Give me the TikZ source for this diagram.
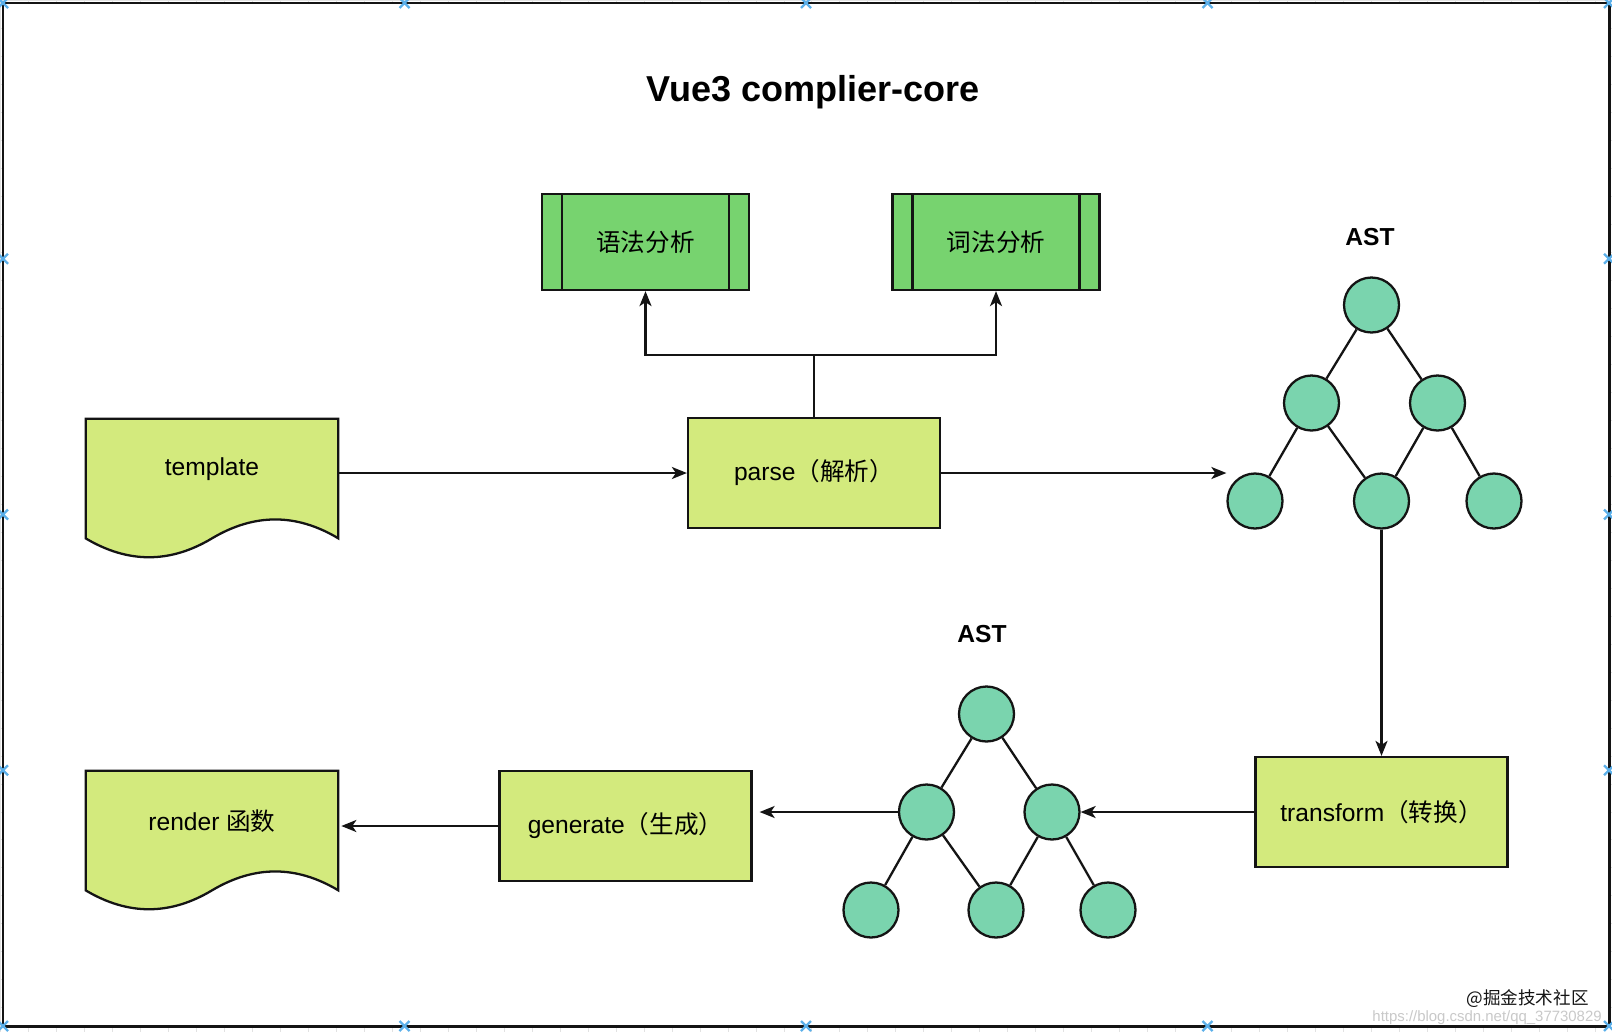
\documentclass[tikz,border=0pt]{standalone}
\usepackage{fontspec}
\setmainfont{Liberation Sans}
\newfontfamily\zhfont{Noto Sans CJK SC}
\usepackage{tikz}
\usetikzlibrary{arrows.meta,positioning,calc,backgrounds}
\definecolor{Ink}{HTML}{141414}
\definecolor{Lime}{HTML}{D3EA7D}
\definecolor{Leaf}{HTML}{77D36F}
\definecolor{Mint}{HTML}{7AD4AE}
\definecolor{Handle}{HTML}{5CB0EA}
\definecolor{GridLine}{HTML}{E2E2E2}
\definecolor{Stamp}{HTML}{C9C9C9}
\newcommand\stagefont{\fontsize{14}{17}\selectfont}
\tikzset{
  stage/.style={draw=Ink,fill=Lime,line width=1.3pt,minimum width=5.04cm,minimum height=2.2cm,inner sep=0pt,font=\stagefont},
  docbox/.style={minimum width=5.04cm,minimum height=2cm,inner sep=0pt,font=\stagefont},
  docline/.style={draw=Ink,fill=Lime,line width=1.3pt},
  subproc/.style={draw=Ink,fill=Leaf,line width=1.3pt,minimum width=4.14cm,minimum height=1.92cm,inner sep=0pt,font=\stagefont\zhfont,
    path picture={\draw[Ink,line width=1.3pt]
      ([xshift=.4cm]path picture bounding box.north west) -- ([xshift=.4cm]path picture bounding box.south west)
      ([xshift=-.4cm]path picture bounding box.north east) -- ([xshift=-.4cm]path picture bounding box.south east);}},
  astnode/.style={circle,draw=Ink,fill=Mint,line width=1.3pt,minimum size=1.1cm,inner sep=0pt},
  astedge/.style={draw=Ink,line width=1.3pt},
  astlabel/.style={font=\bfseries\stagefont},
  headline/.style={font=\bfseries\fontsize{20.5}{24}\selectfont},
  flow/.style={-{Stealth[length=3mm,width=2.4mm,inset=.8mm]},draw=Ink,line width=1.3pt},
  plainline/.style={draw=Ink,line width=1.3pt},
  frameline/.style={draw=Ink,fill=white,line width=1.7pt},
  gridline/.style={draw=GridLine,line width=.4pt},
  handle/.style={draw=Handle,line width=1.3pt},
  stamp/.style={font=\zhfont\fontsize{10}{12}\selectfont,text=Ink,inner sep=0pt},
  csdn/.style={font=\fontsize{8.5}{10}\selectfont,text=Stamp,inner sep=0pt}
}
% wavy bottom of a document box, drawn round a named node
\newcommand\wavedoc[1]{%
  \draw[docline] (#1.north west) -- (#1.north east) -- ($(#1.south east)+(0,19)$)
    .. controls ($(#1.south east)+(-42,-6.2)$) and ($(#1.south east)+(-84,-6.2)$) .. ($(#1.south)+(0,19)$)
    .. controls ($(#1.south)+(-42,44.2)$) and ($(#1.south)+(-84,44.2)$) .. ($(#1.south west)+(0,19)$) -- cycle;}

\begin{document}
\begin{tikzpicture}[x=.02cm,y=-.02cm]
  \useasboundingbox (0,0) rectangle (1612,1032);
  \begin{scope}[on background layer]
    \draw[gridline] (0,0) grid[step=.56cm] (1612,1032);
    \draw[frameline] (3,3) rectangle (1609,1026);
  \end{scope}
  \foreach \hx in {3,404.5,806,1207.5,1609}{
    \draw[handle] (\hx,3) +(-5,-5) -- +(5,5) +(-5,5) -- +(5,-5);
    \draw[handle] (\hx,1026) +(-5,-5) -- +(5,5) +(-5,5) -- +(5,-5);
  }
  \foreach \hy in {258.75,514.5,770.25}{
    \draw[handle] (3,\hy) +(-5,-5) -- +(5,5) +(-5,5) -- +(5,-5);
    \draw[handle] (1609,\hy) +(-5,-5) -- +(5,5) +(-5,5) -- +(5,-5);
  }

  \node[headline] (title) at (813,92) {Vue3 complier-core};

  % template -> parse -> AST
  \node[docbox] (tpl) at (212,469) {template};
  \begin{scope}[on background layer]\wavedoc{tpl}\end{scope}
  \node[stage] (parse) at (814,473) {parse{\zhfont（解析）}};
  \node[subproc] (gram) at (645.5,242) {语法分析};
  \node[subproc] (lex) at (996,242) {词法分析};
  \coordinate (fork) at (814,355);

  \node[astlabel] (ast1) at (1370,237) {AST};
  \node[astnode] (a1r) at (1371.5,305) {};
  \node[astnode] (a1ml) at (1311.5,403) {};
  \node[astnode] (a1mr) at (1437.5,403) {};
  \node[astnode] (a1l1) at (1255,501) {};
  \node[astnode] (a1l2) at (1381.5,501) {};
  \node[astnode] (a1l3) at (1494,501) {};
  \draw[astedge] (a1r) -- (a1ml);
  \draw[astedge] (a1r) -- (a1mr);
  \draw[astedge] (a1ml) -- (a1l1);
  \draw[astedge] (a1ml) -- (a1l2);
  \draw[astedge] (a1mr) -- (a1l2);
  \draw[astedge] (a1mr) -- (a1l3);

  \draw[flow] (tpl.east |- parse.west) -- (parse.west);
  \draw[plainline] (parse.north) -- (fork);
  \draw[flow] (fork) -| (gram.south);
  \draw[flow] (fork) -| (lex.south);
  \draw[flow] (parse.east) -- (parse.east -| a1l1.west);

  % transform -> AST -> generate -> render
  \node[stage] (trans) at (1381.5,812) {transform{\zhfont（转换）}};
  \draw[flow] (a1l2) -- (trans.north);

  \node[astlabel] (ast2) at (982,634) {AST};
  \node[astnode] (a2r) at (986.5,714) {};
  \node[astnode] (a2ml) at (926.5,812) {};
  \node[astnode] (a2mr) at (1052,812) {};
  \node[astnode] (a2l1) at (871,910) {};
  \node[astnode] (a2l2) at (996,910) {};
  \node[astnode] (a2l3) at (1108,910) {};
  \draw[astedge] (a2r) -- (a2ml);
  \draw[astedge] (a2r) -- (a2mr);
  \draw[astedge] (a2ml) -- (a2l1);
  \draw[astedge] (a2ml) -- (a2l2);
  \draw[astedge] (a2mr) -- (a2l2);
  \draw[astedge] (a2mr) -- (a2l3);
  \draw[flow] (trans.west) -- (a2mr.east);

  \node[stage] (gen) at (625.5,826) {generate{\zhfont（生成）}};
  \draw[flow,shorten >=.14cm] (a2ml.west) -- (a2ml.west -| gen.east);

  \node[docbox] (rnd) at (212,821) {render {\zhfont 函数}};
  \begin{scope}[on background layer]\wavedoc{rnd}\end{scope}
  \draw[flow,shorten >=.06cm] (gen.west) -- (gen.west -| rnd.east);

  \node[csdn,anchor=base east] (blog) at (1602,1021) {https://blog.csdn.net/qq\_37730829};
  \node[stamp,anchor=east] (juejin) at (1589,999) {@掘金技术社区};
\end{tikzpicture}
\end{document}
